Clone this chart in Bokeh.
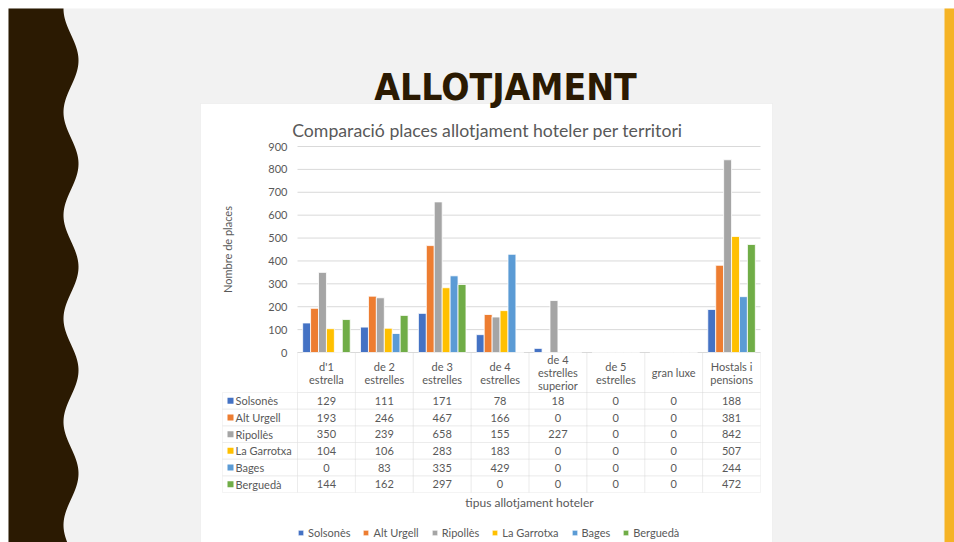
import numpy as np
from bokeh.plotting import figure
from bokeh.models import (ColumnDataSource, Range1d, Label, BoxAnnotation, PolyAnnotation)
from bokeh.core.properties import value
from bokeh.transform import dodge
from bokeh.embed import file_html
from bokeh.resources import INLINE

# ---------------- data ----------------
categories = ["d'1 estrella", "de 2 estrelles", "de 3 estrelles", "de 4 estrelles",
              "de 4 estrelles superior", "de 5 estrelles", "gran luxe", "Hostals i pensions"]
header_lines = [["d'1", "estrella"], ["de 2", "estrelles"], ["de 3", "estrelles"],
                ["de 4", "estrelles"], ["de 4", "estrelles", "superior"],
                ["de 5", "estrelles"], ["gran luxe"], ["Hostals i", "pensions"]]
territories = ["Solsonès", "Alt Urgell", "Ripollès", "La Garrotxa", "Bages", "Berguedà"]
solsones = [129, 111, 171, 78, 18, 0, 0, 188]
alt_urgell = [193, 246, 467, 166, 0, 0, 0, 381]
ripolles = [350, 239, 658, 155, 227, 0, 0, 842]
garrotxa = [104, 106, 283, 183, 0, 0, 0, 507]
bages = [0, 83, 335, 429, 0, 0, 0, 244]
bergueda = [144, 162, 297, 0, 0, 0, 0, 472]
colors = ["#4472C4", "#ED7D31", "#A5A5A5", "#FFC000", "#5B9BD5", "#70AD47"]
y_ticks = [0, 100, 200, 300, 400, 500, 600, 700, 800, 900]
slide_title = "ALLOTJAMENT"
chart_title = "Comparació places allotjament hoteler per territori"
y_title = "Nombre de places"
x_title = "tipus allotjament hoteler"

series = [solsones, alt_urgell, ripolles, garrotxa, bages, bergueda]
keys = ["solsones", "alt_urgell", "ripolles", "garrotxa", "bages", "bergueda"]

# ---------------- layout (page px) ----------------
W, H = 954, 542
PL, PR, PT, PB = 297.0, 760.0, 146.0, 352.0     # plot area of the bar chart
YMAX = 900
TEXT = "#595959"
LINE = "#d9d9d9"
FONT = "Lato"
DARK = "#2b1a02"
n_cat = len(categories)
cw = (PR - PL) / n_cat


def U(px):   # page x -> category units
    return (px - PL) / cw


def V(py):   # page y -> value units
    return (PB - py) * YMAX / (PB - PT)


src = ColumnDataSource(dict(xc=[i + 0.5 for i in range(n_cat)], cat=categories,
                            **{k: v for k, v in zip(keys, series)}))

p = figure(width=W, height=H, x_range=Range1d(U(0), U(W)), y_range=Range1d(V(H), V(0)),
           x_axis_location=None, y_axis_location=None, toolbar_location=None,
           output_backend="svg", min_border=0, background_fill_color="white",
           border_fill_color="white", outline_line_color=None)
p.grid.visible = False
p.extra_x_ranges = {"px": Range1d(0, W)}
p.extra_y_ranges = {"px": Range1d(H, 0)}


def box(l, r, t, b, **kw):
    p.add_layout(BoxAnnotation(left=l, right=r, top=t, bottom=b, x_range_name="px",
                               y_range_name="px", **kw))


def label(x, y, text, size="11px", align="center", baseline="middle", color=TEXT,
          font=FONT, style="normal", angle=0):
    p.add_layout(Label(x=x, y=y, text=text, x_range_name="px", y_range_name="px",
                       text_font=font, text_font_size=size, text_align=align,
                       text_baseline=baseline, text_color=color, text_font_style=style,
                       angle=angle))


# ---------------- slide decoration ----------------
box(8, W + 5, 8, H + 5, fill_color="#f2f2f2", fill_alpha=1, line_color=None, level="image")
wy = np.arange(8, H + 6, 2.0)
wx = 70.5 + 7.5 * np.sin(2 * np.pi * (wy - 60) / 103.25 + np.pi / 2)
poly_x = [8.0] + list(wx) + [8.0]
poly_y = [wy[0]] + list(wy) + [wy[-1]]
p.add_layout(PolyAnnotation(xs=[U(v) for v in poly_x], ys=[V(v) for v in poly_y],
                            fill_color=DARK, fill_alpha=1, line_color=None, level="image"))
box(944, W + 5, 8, H + 5, fill_color="#F5B325", fill_alpha=1, line_color=None, level="image")
box(200, 772, 103, H + 8, fill_color="white", fill_alpha=1, line_color=LINE, line_width=1,
    level="image")

label(505, 86.7, slide_title, size="37px", baseline="alphabetic", color=DARK,
      font="'Liberation Sans Narrow', 'DejaVu Sans Condensed', Lato, sans-serif",
      style="bold")
label(487, 130, chart_title, size="17.7px", baseline="alphabetic")
label(529, 501.5, x_title, size="12px")
label(227, (PT + PB) / 2, y_title, angle=np.pi / 2)

# ---------------- value axis: grid and tick labels ----------------
p.segment(x0=0, x1=n_cat, y0=y_ticks, y1=y_ticks, line_color=LINE, line_width=1)
p.text(x=U(PL - 10), y=y_ticks, text=[str(t) for t in y_ticks], text_align="right",
       text_baseline="middle", text_font=value(FONT), text_font_size="11px",
       text_color=TEXT)

# ---------------- bars ----------------
slot = 0.137
for j, (k, name, c) in enumerate(zip(keys, territories, colors)):
    p.vbar(x=dodge("xc", (j - 2.5) * slot), top=k, width=slot,
           source=src, fill_color=c, line_color="white", line_width=0.8,
           legend_label=name)

lg = p.legend[0]
lg.location = (297, 3)
lg.orientation = "horizontal"
lg.glyph_width = 7
lg.glyph_height = 7
lg.label_standoff = 4
lg.spacing = 12
lg.padding = 0
lg.margin = 0
lg.label_height = 12
lg.label_text_font = FONT
lg.label_text_font_size = "11px"
lg.label_text_color = TEXT
lg.border_line_color = None
lg.background_fill_alpha = 0

# ---------------- data table ----------------
row_top = 392.0
rh = (492.0 - row_top) / len(territories)
col_x = [PL + i * cw for i in range(n_cat + 1)]
col_c = [PL + (i + 0.5) * cw for i in range(n_cat)]
hdr_c = (PB + row_top) / 2

for i, lines in enumerate(header_lines):
    box(col_x[i], col_x[i + 1], PB, row_top, fill_alpha=0, line_color=LINE, line_width=1)
    n = len(lines)
    for kk, ln in enumerate(lines):
        label(col_c[i], hdr_c + (kk - (n - 1) / 2) * 13, ln)

for r, (name, vals, c) in enumerate(zip(territories, series, colors)):
    t = row_top + r * rh
    b = t + rh
    yc = (t + b) / 2
    box(222, PL, t, b, fill_alpha=0, line_color=LINE, line_width=1)
    box(227, 233, yc - 3, yc + 3, fill_color=c, fill_alpha=1, line_color=None)
    label(235, yc, name, align="left")
    for i, v in enumerate(vals):
        box(col_x[i], col_x[i + 1], t, b, fill_alpha=0, line_color=LINE, line_width=1)
        label(col_c[i], yc, str(v))

open("out.html", "w").write(file_html(p, INLINE))
